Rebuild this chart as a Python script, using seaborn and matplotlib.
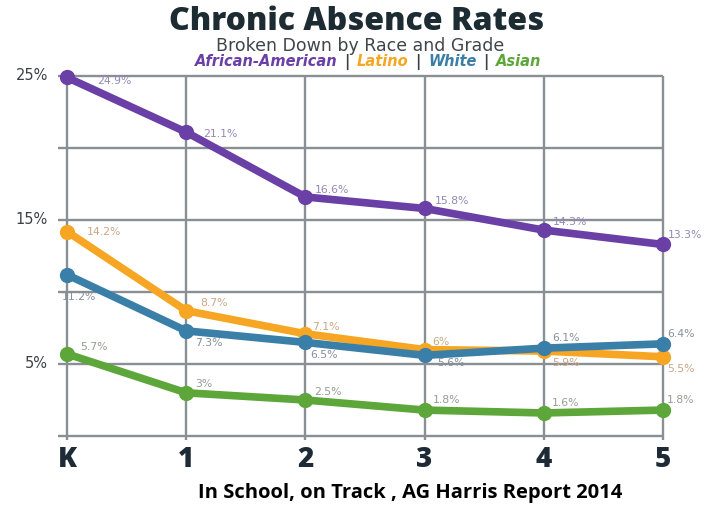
import matplotlib
matplotlib.use('Agg')
import matplotlib.pyplot as plt
import seaborn as sns
import pandas as pd


grades = ['K', '1', '2', '3', '4', '5']
races = ['African-American', 'Latino', 'White', 'Asian']

african_american = [24.9, 21.1, 16.6, 15.8, 14.3, 13.3]
latino = [14.2, 8.7, 7.1, 6.0, 5.9, 5.5]
white = [11.2, 7.3, 6.5, 5.6, 6.1, 6.4]
asian = [5.7, 3.0, 2.5, 1.8, 1.6, 1.8]

value_labels = {
    'African-American': ['24.9%', '21.1%', '16.6%', '15.8%', '14.3%', '13.3%'],
    'Latino': ['14.2%', '8.7%', '7.1%', '6%', '5.9%', '5.5%'],
    'White': ['11.2%', '7.3%', '6.5%', '5.6%', '6.1%', '6.4%'],
    'Asian': ['5.7%', '3%', '2.5%', '1.8%', '1.6%', '1.8%'],
}

ytick_vals = [25, 15, 5]
ytick_labels = ['25%', '15%', '5%']

# colours
line_col = {'African-American': '#6a3fa6', 'Latino': '#f6a622',
            'White': '#3a7fa8', 'Asian': '#5ca63a'}
text_col = {'African-American': '#9488b8', 'Latino': '#cba784',
            'White': '#84909c', 'Asian': '#939e91'}

# label offsets in pixels (dx, dy) relative to the point, dy positive = up
offsets = {
    'African-American': [(30, -4), (17, -2), (9, 7), (10, 7), (9, 8), (5, 9)],
    'Latino': [(20, 0), (14, 8), (7, 7), (8, 8), (8, -12), (4, -12)],
    'White': [(-5, -22), (9, -12), (5, -13), (13, -8), (8, 10), (4, 10)],
    'Asian': [(13, 7), (9, 9), (9, 8), (8, 10), (8, 10), (4, 10)],
}

rows = []
series = [african_american, latino, white, asian]
for race, vals in zip(races, series):
    for i, v in enumerate(vals):
        rows.append({'pos': i, 'grade': grades[i], 'rate': v, 'race': race})
df = pd.DataFrame(rows)

sns.set_style('white')
plt.rcParams['font.family'] = ['DejaVu Sans']

W, H = 710, 509
fig = plt.figure(figsize=(W / 100, H / 100), dpi=100)

# axes box in pixel coords: x 58..665, y 74..440
x0, x1, y_top, y_bot = 58, 665, 74, 440
ax = fig.add_axes([x0 / W, 1 - y_bot / H, (x1 - x0) / W, (y_bot - y_top) / H])

px_per_unit = (663 - 67) / 5.0
xlim_l = -(67 - x0) / px_per_unit
xlim_r = 5 + (x1 - 663) / px_per_unit
px_per_pct = (436 - 76) / 25.0
ylim_b = -(y_bot - 436) / px_per_pct
ylim_t = 25 + (76 - y_top) / px_per_pct
ax.set_xlim(xlim_l, xlim_r)
ax.set_ylim(ylim_b, ylim_t)

# grid
for gy in [0, 5, 10, 15, 20, 25]:
    ax.plot([xlim_l, 5], [gy, gy], color='#8a8f94', lw=1.7, zorder=1, solid_capstyle='butt')
for gx in range(6):
    ax.plot([gx, gx], [ylim_b, 25], color='#8a8f94', lw=1.7, zorder=1, solid_capstyle='butt')

sns.lineplot(data=df, x='pos', y='rate', hue='race', hue_order=races,
             palette=line_col, marker='o', markersize=11, markeredgewidth=0,
             linewidth=5.5, legend=False, ax=ax, zorder=3)
for ln in ax.lines:
    ln.set_clip_on(False)

for race in races:
    sub = df[df.race == race]
    for (i, r), lab, (dx, dy) in zip(sub.iterrows(), value_labels[race], offsets[race]):
        ax.annotate(lab, (r['pos'], r['rate']), xytext=(dx * 0.72, dy * 0.72),
                    textcoords='offset points', fontsize=7.8, color=text_col[race],
                    ha='left', va='center', zorder=5)

for s in ax.spines.values():
    s.set_visible(False)
ax.set_xticks([])
ax.set_yticks([])
ax.set_xlabel('')
ax.set_ylabel('')

# y tick labels
for v, lab in zip(ytick_vals, ytick_labels):
    fig.text(48 / W, 1 - (436 - v * px_per_pct - 1) / H, lab, ha='right', va='center',
             fontsize=10.5, color='#3c4146')
# x tick labels
for i, g in enumerate(grades):
    ax.text(i, -1.6, g, ha='center', va='center', fontsize=20, fontweight='black',
            color='#1e2b36', family=['Open Sans', 'DejaVu Sans'])

# titles
fig.text(357 / W, 1 - 30 / H, 'Chronic Absence Rates', ha='center', va='baseline',
         fontsize=23, fontweight='black', color='#1d2b33', family=['Open Sans', 'DejaVu Sans'])
fig.text(360 / W, 1 - 51 / H, 'Broken Down by Race and Grade', ha='center', va='baseline',
         fontsize=12.5, color='#40454a')

# coloured legend line
pieces = [('African-American', line_col['African-American']), ('|', '#3a3f44'),
          ('Latino', line_col['Latino']), ('|', '#3a3f44'),
          ('White', line_col['White']), ('|', '#3a3f44'),
          ('Asian', line_col['Asian'])]
gap = 7
fig.canvas.draw()
renderer = fig.canvas.get_renderer()
objs = []
total = 0
for txt, c in pieces:
    t = fig.text(0, 1 - 66.5 / H, txt, ha='left', va='baseline', fontsize=10.5,
                 fontweight='bold', fontstyle='italic', color=c)
    w = t.get_window_extent(renderer).width
    objs.append((t, w))
    total += w
total += gap * (len(objs) - 1)
x = 368 - total / 2
for t, w in objs:
    t.set_x(x / W)
    x += w + gap

fig.text(410 / W, 1 - 493 / H, 'In School, on Track , AG Harris Report 2014',
         ha='center', va='center', fontsize=14.5, fontweight='bold', color='black',
         family=['Open Sans', 'DejaVu Sans'])

fig.savefig('out.png', dpi=100)
